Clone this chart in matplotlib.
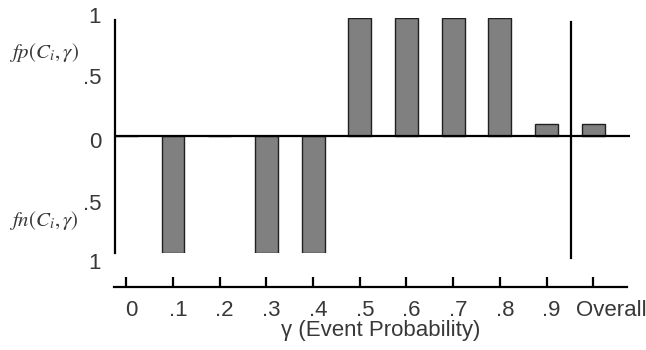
import matplotlib.pyplot as plt
import matplotlib.transforms as mtransforms

plt.rcParams['font.family'] = ['Liberation Sans', 'DejaVu Sans']
plt.rcParams['mathtext.fontset'] = 'stix'

# fp (positive) / fn (negative) per gamma bucket, last entry is the overall value
categories = ['0', '.1', '.2', '.3', '.4', '.5', '.6', '.7', '.8', '.9', 'Overall']
values = [0, -1, 0, -1, -1, 1, 1, 1, 1, 0.1, 0.1]
y_ticks = [1, 0.5, 0, -0.5, -1]
y_labels = ['1', '.5', '0', '.5', '1']

W, H = 646, 350
fig = plt.figure(figsize=(W / 100, H / 100), dpi=100)


def px_axes(x0, y0, x1, y1):
    # axes from pixel box (top-left origin)
    return fig.add_axes([x0 / W, 1 - y1 / H, (x1 - x0) / W, (y1 - y0) / H])


def shift(label, dx, dy):
    label.set_transform(label.get_transform() +
                        mtransforms.ScaledTranslation(dx / 100, dy / 100, fig.dpi_scale_trans))


gray = '#808080'
txt = '#383838'
lw = 1.6
XLIM = (-0.242, 10.786)

# main bar panel
ax = px_axes(115, 18, 630, 253)
xs = list(range(len(values)))
ax.bar(xs, values, width=0.49, color=gray, edgecolor='#202020', linewidth=1.0, zorder=2)
ax.set_xlim(*XLIM)
ax.set_ylim(-1, 1)
for s in ax.spines.values():
    s.set_visible(False)
ax.set_xticks([])
ax.set_yticks(y_ticks)
ax.set_yticklabels(y_labels, fontsize=16, color=txt)
ax.tick_params(axis='y', length=0, pad=10)
for lab, dy in zip(ax.get_yticklabels(), [3, 1, -5, -8, -8]):
    shift(lab, 0, dy)
ax.plot([XLIM[0], XLIM[0]], [0.98, -1.0], color='black', lw=lw, clip_on=False)
ax.axhline(0, color='black', lw=lw, zorder=3)
# separator between per-bucket bars and overall
ax.plot([9.52, 9.52], [0.966, -1.04], color='black', lw=lw, clip_on=False, zorder=3)

fig.text(44 / W, 1 - 52 / H, r'$fp(C_i,\gamma)$', fontsize=15,
         ha='center', va='center', color=txt)
fig.text(44 / W, 1 - 220 / H, r'$fn(C_i,\gamma)$', fontsize=15,
         ha='center', va='center', color=txt)

# bottom category axis
bx = px_axes(115, 250, 630, 287)
bx.set_xlim(*XLIM)
bx.set_ylim(0, 1)
for k in ['top', 'left', 'right']:
    bx.spines[k].set_visible(False)
bx.spines['bottom'].set_linewidth(lw)
bx.spines['bottom'].set_bounds(-0.27, 10.72)
bx.patch.set_alpha(0)
bx.set_yticks([])
bx.set_xticks(xs)
bx.set_xticklabels(categories, fontsize=16, color=txt)
bx.tick_params(axis='x', direction='in', length=7.5, width=lw, pad=9)
for i, lab in enumerate(bx.get_xticklabels()):
    shift(lab, 18 if i == len(categories) - 1 else 5, 0)
bx.set_xlabel('γ (Event Probability)', fontsize=16, color=txt)
bx.xaxis.set_label_coords((381 - 115) / (630 - 115), -0.9)

fig.savefig('out.png', dpi=100)
